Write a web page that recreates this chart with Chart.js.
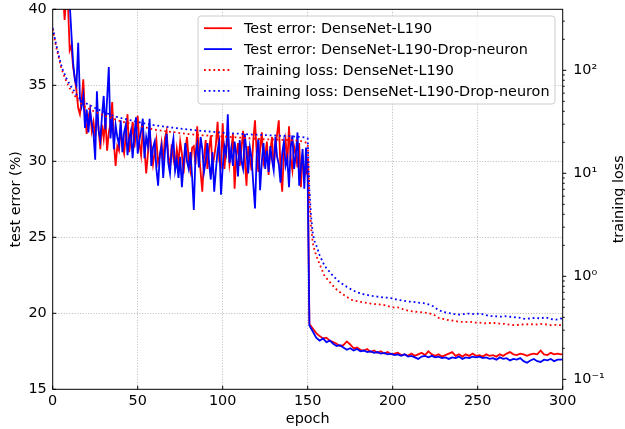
<!DOCTYPE html>
<html>
<head>
<meta charset="utf-8">
<script src="https://cdn.jsdelivr.net/npm/chart.js@4/dist/chart.umd.min.js"></script>
<style>
  html, body { margin: 0; padding: 0; background: #fff; }
  canvas { display: block; }
</style>
</head>
<body>
<canvas id="chart" width="625" height="429"></canvas>
<script>
// epochs for the test error curves: every epoch up to 150, every other one after
var testEpochs = [];
for (var e = 0; e <= 150; e++) testEpochs.push(e);
for (var e2 = 151; e2 < 300; e2 += 2) testEpochs.push(e2);
testEpochs.push(300);

// test error (%), DenseNet-L190
var testErrBase = [
  62, 55, 50, 46.5, 44, 42.5, 41.2, 39.3, 40.8, 40.3,
  37.3, 37.6, 36.2, 35.5, 34.6, 33.5, 33.1, 34.0, 35.4, 33.0,
  31.8, 32.9, 33.4, 32.0, 32.6, 31.6, 33.0, 32.2, 30.8, 32.4,
  31.5, 32.8, 30.7, 31.9, 32.5, 33.9, 31.2, 29.7, 31.0, 30.7,
  32.2, 31.0, 30.5, 31.7, 33.1, 30.6, 31.4, 32.6, 30.9, 31.8,
  33.0, 31.2, 30.4, 32.1, 30.8, 29.2, 30.5, 31.9, 30.9, 29.8,
  30.6, 31.4, 29.9, 30.3, 31.2, 30.0, 31.5, 32.0, 30.4, 29.5,
  31.1, 30.2, 29.6, 30.8, 29.9, 31.3, 30.5, 29.2, 30.7, 31.6,
  30.1, 29.4, 30.9, 31.0, 29.8, 32.3, 30.6, 29.3, 28.0, 30.2,
  31.4, 29.5, 30.8, 31.7, 29.6, 30.3, 31.1, 32.6, 30.0, 29.7,
  32.5, 29.5, 30.9, 31.5, 29.8, 30.6, 31.8, 28.2, 30.3, 31.2,
  29.7, 30.8, 32.0, 30.1, 28.4, 31.0, 30.2, 29.4, 31.4, 32.7,
  30.5, 29.3, 30.8, 31.9, 29.9, 30.4, 31.3, 29.1, 30.7, 31.6,
  29.6, 30.9, 31.8, 32.7, 29.5, 28.0, 30.6, 31.4, 29.8, 32.3,
  30.2, 29.4, 31.0, 30.5, 29.6, 31.2, 28.3, 30.4, 29.1, 29.2,
  30.2,
  19.3, 19.0, 18.7, 18.5, 18.35, 18.4, 18.2, 18.1, 18.0, 17.85,
  17.9, 18.15, 17.95, 17.7, 17.75, 17.6, 17.55, 17.65, 17.45, 17.55,
  17.4, 17.5, 17.35, 17.45, 17.3, 17.35, 17.4, 17.25, 17.3, 17.2,
  17.35, 17.2, 17.3, 17.4, 17.25, 17.5, 17.3, 17.2, 17.3, 17.15,
  17.25, 17.35, 17.45, 17.2, 17.3, 17.15, 17.3, 17.2, 17.35, 17.2,
  17.25, 17.15, 17.3, 17.2, 17.25, 17.15, 17.3, 17.2, 17.35, 17.45,
  17.3, 17.25, 17.35, 17.3, 17.2, 17.3, 17.35, 17.3, 17.55, 17.3,
  17.25, 17.4, 17.3, 17.35, 17.3, 17.32
];

// test error (%), DenseNet-L190-Drop-neuron
var testErrDrop = [
  65, 58, 52, 48, 45, 43, 41.8, 41.0, 40.6, 41.5,
  40.4, 38.4, 36.5, 35.4, 35.0, 37.8, 34.2, 33.6, 34.3, 32.2,
  33.4, 31.9, 33.3, 32.5, 31.8, 30.1, 34.6, 32.0, 31.4, 33.0,
  34.3, 32.1, 34.1, 36.2, 31.5, 32.9, 30.8, 32.4, 31.6, 31.1,
  32.7, 30.6, 31.9, 32.4, 30.4, 31.5, 32.0, 30.2, 31.7, 32.9,
  30.5, 31.4, 32.0, 32.8, 30.2, 31.6, 31.0, 32.8, 29.7, 30.9,
  31.3, 29.5, 28.4, 30.4, 31.0, 28.9, 30.6, 31.8, 29.9, 29.2,
  30.8, 31.5, 29.4, 30.1, 28.9, 30.3, 28.3, 29.8, 31.2, 30.0,
  29.5, 30.6, 29.0, 26.8, 30.4, 31.1, 29.6, 31.6, 30.8, 29.3,
  30.0, 31.2, 29.9, 28.8, 30.6, 28.0, 29.4, 30.7, 31.3, 27.8,
  29.6, 31.0, 30.5, 33.1, 29.9, 30.8, 29.7, 31.3, 30.4, 29.0,
  31.4, 30.0, 29.5, 31.8, 30.6, 29.2, 30.9, 30.2, 28.5, 26.9,
  30.4, 31.5, 28.1, 30.0, 31.2, 29.5, 30.7, 29.3, 31.0, 30.1,
  29.4, 31.6, 30.3, 29.8, 28.6, 30.5, 31.3, 29.7, 30.2, 28.3,
  30.9, 31.7, 29.5, 30.4, 31.9, 28.4, 29.6, 30.8, 28.2, 30.9,
  28.8,
  19.2, 18.8, 18.4, 18.2, 18.35, 18.1, 18.2, 18.0, 17.85, 17.9,
  17.75, 17.6, 17.7, 17.55, 17.65, 17.5, 17.55, 17.45, 17.5, 17.4,
  17.45, 17.35, 17.4, 17.3, 17.35, 17.25, 17.3, 17.2, 17.3, 17.15,
  17.2, 17.1, 17.0, 17.15, 17.2, 17.1, 17.2, 17.1, 17.15, 17.05,
  17.1, 17.0, 17.1, 17.05, 17.15, 17.0, 17.1, 17.05, 17.15, 17.1,
  17.15, 17.05, 17.1, 17.0, 17.05, 16.95, 17.1, 17.0, 17.05, 16.9,
  17.0, 16.95, 17.05, 16.85, 16.75, 16.9, 17.0, 16.85, 16.8, 16.95,
  16.9, 17.0, 16.85, 16.95, 16.95, 16.97
];

// epochs at which the training loss is plotted
var lossEpochs = [
  0, 1, 2, 3, 4, 5, 6, 8, 10, 12, 15, 18, 21, 25, 30, 35, 40, 45, 50, 55,
  60, 65, 70, 75, 80, 85, 90, 95, 100, 105, 110, 115, 120, 125, 130, 135, 140, 145, 148, 150,
  151, 152, 153, 154, 155, 156, 157, 158, 160, 162, 164, 166, 168, 170,
  173, 176, 179, 182, 185, 188, 191, 194, 197, 200, 203, 206, 209, 212, 215, 218,
  221, 224, 227, 230, 233, 236, 239, 242, 245, 248, 251, 254, 257, 260, 263, 266,
  269, 272, 275, 278, 281, 284, 287, 290, 293, 296, 299, 300
];

var lossBase = [
  250, 205, 170, 145, 123, 106, 95, 78, 67, 60, 50.5, 45.5, 42.5, 39.5, 36.5, 34, 32, 30.5, 29, 27.8,
  26.5, 25.8, 25.2, 24.6, 24.0, 23.6, 23.3, 23.0, 22.8, 22.5, 22.2, 21.9, 21.6, 21.4, 21.3, 21.1, 21.0, 20.7, 20.2, 19.5,
  5.5, 3.0, 2.1, 1.8, 1.6, 1.45, 1.3, 1.2, 1.0, 0.92, 0.84, 0.77, 0.72, 0.68,
  0.63, 0.59, 0.575, 0.56, 0.55, 0.54, 0.535, 0.53, 0.515, 0.5, 0.5, 0.48, 0.465, 0.455, 0.45, 0.445,
  0.44, 0.425, 0.395, 0.385, 0.375, 0.37, 0.362, 0.36, 0.362, 0.356, 0.355, 0.35, 0.352, 0.352, 0.348, 0.345,
  0.338, 0.335, 0.34, 0.342, 0.343, 0.34, 0.345, 0.342, 0.336, 0.338, 0.335, 0.34
];

var lossDrop = [
  258, 214, 178, 153, 130, 113, 101, 84, 73, 65, 55, 49.5, 46.5, 43, 39.5, 36.5, 34.5, 33, 31.5, 30.3,
  29.2, 28.5, 27.8, 27.2, 26.6, 26.1, 25.6, 25.2, 24.8, 24.5, 24.2, 23.9, 23.7, 23.5, 23.3, 23.1, 22.9, 22.6, 22.3, 21.8,
  7.0, 3.8, 2.6, 2.2, 2.0, 1.8, 1.6, 1.48, 1.26, 1.15, 1.05, 0.97, 0.9, 0.85,
  0.79, 0.74, 0.7, 0.675, 0.66, 0.645, 0.635, 0.625, 0.62, 0.61, 0.59, 0.58, 0.57, 0.565, 0.555, 0.55,
  0.535, 0.51, 0.47, 0.45, 0.44, 0.43, 0.425, 0.43, 0.435, 0.43, 0.435, 0.425, 0.41, 0.41, 0.405, 0.41,
  0.405, 0.40, 0.395, 0.385, 0.39, 0.395, 0.39, 0.40, 0.385, 0.38, 0.39, 0.38
];

// axis ticks
var epochTicks = [0, 50, 100, 150, 200, 250, 300];
var errorTicks = [15, 20, 25, 30, 35, 40];
var lossTicks = [
  0.1, 0.2, 0.3, 0.4, 0.5, 0.6, 0.7, 0.8, 0.9,
  1, 2, 3, 4, 5, 6, 7, 8, 9,
  10, 20, 30, 40, 50, 60, 70, 80, 90,
  100, 200, 300
];
var lossDecades = [0.1, 1, 10, 100];
var lossDecadeLabels = ['10\u207B\u00B9', '10\u2070', '10\u00B9', '10\u00B2'];

var FONT = 'DejaVu Sans';
var FONT_SIZE = 14.4;
var font14 = {family: FONT, size: FONT_SIZE};

function points(xs, ys) {
  var out = [];
  for (var i = 0; i < xs.length && i < ys.length; i++) out.push({x: xs[i], y: ys[i]});
  return out;
}

function gridColor(lo, hi) {
  return function(c) {
    if (!c.tick || c.tick.value === lo || c.tick.value === hi) return 'rgba(0,0,0,0)';
    return '#b0b0b0';
  };
}

function setTicks(values) {
  return function(scale) {
    scale.ticks = values.map(function(v) { return {value: v}; });
  };
}

// fixed axis sizes so the plot area lands in the same place every time
function fixWidth(w) {
  return function(s) {
    s.width = w;
    s.paddingTop = 0;
    s.paddingBottom = 0;
  };
}

function fixHeight(h) {
  return function(s) {
    s.height = h;
    s.paddingLeft = 0;
    s.paddingRight = 0;
  };
}

// frame around the plot and the tick marks (inward on left/bottom, outward on the log axis)
var frameTicks = {
  id: 'frameTicks',
  afterDatasetsDraw: function(chart) {
    var ctx = chart.ctx;
    var a = chart.chartArea;
    var sx = chart.scales.x, sy = chart.scales.y, sy2 = chart.scales.y2;
    ctx.save();
    ctx.strokeStyle = '#000';
    ctx.lineWidth = 1;
    ctx.beginPath();
    epochTicks.forEach(function(v) {
      var px = sx.getPixelForValue(v);
      ctx.moveTo(px, a.bottom);
      ctx.lineTo(px, a.bottom - 3.5);
    });
    errorTicks.forEach(function(v) {
      var py = sy.getPixelForValue(v);
      ctx.moveTo(a.left, py);
      ctx.lineTo(a.left + 3.5, py);
    });
    lossTicks.forEach(function(v) {
      var py = sy2.getPixelForValue(v);
      var len = lossDecades.indexOf(v) >= 0 ? 3.5 : 2;
      ctx.moveTo(a.right, py);
      ctx.lineTo(a.right + len, py);
    });
    ctx.stroke();
    ctx.strokeRect(a.left, a.top, a.right - a.left, a.bottom - a.top);
    ctx.restore();
  },
  afterDraw: function(chart) {
    var ctx = chart.ctx;
    var a = chart.chartArea;
    ctx.save();
    ctx.translate(619, (a.top + a.bottom) / 2);
    ctx.rotate(-Math.PI / 2);
    ctx.font = FONT_SIZE + 'px "' + FONT + '"';
    ctx.fillStyle = '#000';
    ctx.textAlign = 'center';
    ctx.textBaseline = 'middle';
    ctx.fillText('training loss', 0, 0);
    ctx.restore();
  }
};

// framed legend in the upper right of the plot
var boxLegend = {
  id: 'boxLegend',
  afterDraw: function(chart) {
    var ctx = chart.ctx;
    var x = 198, y = 16, w = 357, h = 88, r = 3;
    ctx.save();
    ctx.beginPath();
    ctx.moveTo(x + r, y);
    ctx.arcTo(x + w, y, x + w, y + h, r);
    ctx.arcTo(x + w, y + h, x, y + h, r);
    ctx.arcTo(x, y + h, x, y, r);
    ctx.arcTo(x, y, x + w, y, r);
    ctx.closePath();
    ctx.fillStyle = 'rgba(255,255,255,0.8)';
    ctx.fill();
    ctx.strokeStyle = '#cccccc';
    ctx.lineWidth = 1;
    ctx.stroke();

    ctx.font = FONT_SIZE + 'px "' + FONT + '"';
    ctx.textBaseline = 'alphabetic';
    ctx.textAlign = 'left';
    chart.data.datasets.forEach(function(ds, i) {
      var base = 33.3 + i * 20.9;
      var ly = base - 5.1;
      ctx.beginPath();
      ctx.setLineDash(ds.borderDash || []);
      ctx.strokeStyle = ds.borderColor;
      ctx.lineWidth = ds.borderWidth;
      ctx.moveTo(204, ly);
      ctx.lineTo(232, ly);
      ctx.stroke();
      ctx.setLineDash([]);
      ctx.fillStyle = '#000';
      ctx.fillText(ds.label, 244, base);
    });
    ctx.restore();
  }
};

var ctx = document.getElementById('chart').getContext('2d');
var chart = new Chart(ctx, {
  type: 'line',
  data: {
    datasets: [
      {
        label: 'Test error: DenseNet-L190',
        data: points(testEpochs, testErrBase),
        yAxisID: 'y',
        borderColor: '#ff0000',
        borderWidth: 1.8,
        order: 4
      },
      {
        label: 'Test error: DenseNet-L190-Drop-neuron',
        data: points(testEpochs, testErrDrop),
        yAxisID: 'y',
        borderColor: '#0000ff',
        borderWidth: 1.8,
        order: 3
      },
      {
        label: 'Training loss: DenseNet-L190',
        data: points(lossEpochs, lossBase),
        yAxisID: 'y2',
        borderColor: '#ff0000',
        borderWidth: 1.8,
        borderDash: [1.8, 2.9],
        order: 2
      },
      {
        label: 'Training loss: DenseNet-L190-Drop-neuron',
        data: points(lossEpochs, lossDrop),
        yAxisID: 'y2',
        borderColor: '#0000ff',
        borderWidth: 1.8,
        borderDash: [1.8, 2.9],
        order: 1
      }
    ]
  },
  options: {
    responsive: false,
    animation: false,
    events: [],
    layout: {padding: {top: 9.3, left: 0, right: 0, bottom: 0}},
    elements: {
      point: {radius: 0},
      line: {tension: 0, borderCapStyle: 'butt', fill: false}
    },
    plugins: {
      legend: {display: false},
      tooltip: {enabled: false}
    },
    scales: {
      x: {
        type: 'linear',
        min: 0,
        max: 300,
        afterBuildTicks: setTicks(epochTicks),
        afterFit: fixHeight(39.7),
        ticks: {font: font14, color: '#000', padding: 3.6, maxRotation: 0, autoSkip: false},
        grid: {drawTicks: false, lineWidth: 0.9, color: gridColor(0, 300)},
        border: {display: false, dash: [1, 1.7]},
        title: {display: true, text: 'epoch', font: font14, color: '#000', padding: {top: 0, bottom: 1}}
      },
      y: {
        type: 'linear',
        position: 'left',
        min: 15,
        max: 40,
        afterBuildTicks: setTicks(errorTicks),
        afterFit: fixWidth(52.7),
        ticks: {font: font14, color: '#000', padding: 6, autoSkip: false},
        grid: {drawTicks: false, lineWidth: 0.9, color: gridColor(15, 40)},
        border: {display: false, dash: [1, 1.7]},
        title: {display: true, text: 'test error (%)', font: font14, color: '#000', padding: {top: 8, bottom: 0}}
      },
      y2: {
        type: 'logarithmic',
        position: 'right',
        min: 0.08,
        max: 391,
        afterBuildTicks: setTicks(lossTicks),
        afterFit: fixWidth(62.3),
        ticks: {
          font: font14,
          color: '#000',
          padding: 10.5,
          autoSkip: false,
          callback: function(v) {
            var k = lossDecades.indexOf(v);
            return k >= 0 ? lossDecadeLabels[k] : '';
          }
        },
        grid: {display: false, drawTicks: false},
        border: {display: false}
      }
    }
  },
  plugins: [frameTicks, boxLegend]
});
</script>
</body>
</html>
